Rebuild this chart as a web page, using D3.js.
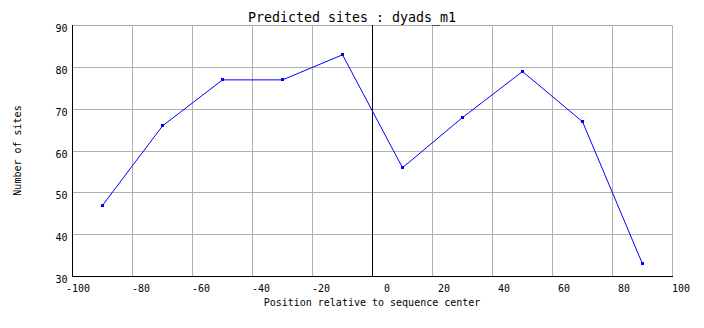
<!DOCTYPE html>
<html>
<head>
<meta charset="utf-8">
<script src="https://cdn.jsdelivr.net/npm/d3@7/dist/d3.min.js"></script>
<style>
  html, body { margin: 0; padding: 0; background: #fff; }
  svg { display: block; }
  text { font-family: "DejaVu Sans Mono", monospace; fill: #000; }
</style>
</head>
<body>
<script>
// ---- data ----
const positions = [-90, -70, -50, -30, -10, 10, 30, 50, 70, 90];
const sites = [47, 66, 77, 77, 83, 56, 68, 79, 67, 33];
const xTicks = [-100, -80, -60, -40, -20, 0, 20, 40, 60, 80, 100];
const yTicks = [30, 40, 50, 60, 70, 80, 90];
const titleText = "Predicted sites : dyads_m1";
const xTitle = "Position relative to sequence center";
const yTitle = "Number of sites";

// ---- layout ----
const W = 704, H = 328;
const svg = d3.select("body").append("svg").attr("width", W).attr("height", H);
svg.append("rect").attr("width", W).attr("height", H).attr("fill", "#fff");

const x = d3.scaleLinear().domain([-100, 100]).range([72, 672]);
const y = d3.scaleLinear().domain([30, 90]).range([276, 25]);
const px = v => Math.round(x(v)) + 0.5;
const py = v => Math.round(y(v)) + 0.5;

const gridColor = "#b0b0b0";

// vertical grid
svg.append("g").selectAll("line").data(xTicks.filter(d => d !== -100))
  .join("line")
  .attr("x1", d => px(d)).attr("x2", d => px(d))
  .attr("y1", py(90)).attr("y2", py(30))
  .attr("stroke", gridColor).attr("stroke-width", 1);

// horizontal grid
svg.append("g").selectAll("line").data(yTicks.filter(d => d !== 30))
  .join("line")
  .attr("x1", px(-100)).attr("x2", px(100))
  .attr("y1", d => py(d)).attr("y2", d => py(d))
  .attr("stroke", gridColor).attr("stroke-width", 1);

// axes lines
svg.append("line").attr("x1", px(-100)).attr("x2", px(-100))
  .attr("y1", py(90) - 0.5).attr("y2", py(30) + 0.5)
  .attr("stroke", "#000");
svg.append("line").attr("x1", px(-100) - 0.5).attr("x2", px(100) + 0.5)
  .attr("y1", py(30)).attr("y2", py(30))
  .attr("stroke", "#000");
// center line at 0
svg.append("line").attr("x1", px(0)).attr("x2", px(0))
  .attr("y1", py(90) - 0.5).attr("y2", py(30))
  .attr("stroke", "#000");

// x tick labels (right-aligned just right of gridline)
svg.append("g").selectAll("text").data(xTicks).join("text")
  .attr("x", d => x(d) + 18)
  .attr("y", 292)
  .attr("text-anchor", "end")
  .attr("font-size", 10)
  .text(d => d);

// y tick labels
svg.append("g").selectAll("text").data(yTicks).join("text")
  .attr("x", 67.5)
  .attr("y", d => Math.round(y(d)) + 7)
  .attr("text-anchor", "end")
  .attr("font-size", 10)
  .text(d => d);

// data line
const line = d3.line().x(d => x(d[0]) + 0.5).y(d => y(d[1]) + 0.5);
const pts = positions.map((p, i) => [p, sites[i]]);
svg.append("path").datum(pts)
  .attr("d", line)
  .attr("fill", "none")
  .attr("stroke", "#0000ff")
  .attr("stroke-width", 1);

svg.append("g").selectAll("rect").data(pts).join("rect")
  .attr("x", d => Math.round(x(d[0])) - 1)
  .attr("y", d => Math.round(y(d[1])) - 1)
  .attr("width", 3).attr("height", 3)
  .attr("fill", "#0000ff");

// titles
svg.append("text")
  .attr("x", W / 2).attr("y", 22)
  .attr("text-anchor", "middle")
  .attr("font-size", 13.3)
  .text(titleText);

svg.append("text")
  .attr("x", (x(-100) + x(100)) / 2).attr("y", 306)
  .attr("text-anchor", "middle")
  .attr("font-size", 10)
  .text(xTitle);

svg.append("text")
  .attr("transform", `translate(21, ${(y(30) + y(90)) / 2}) rotate(-90)`)
  .attr("text-anchor", "middle")
  .attr("font-size", 10)
  .text(yTitle);
</script>
</body>
</html>
